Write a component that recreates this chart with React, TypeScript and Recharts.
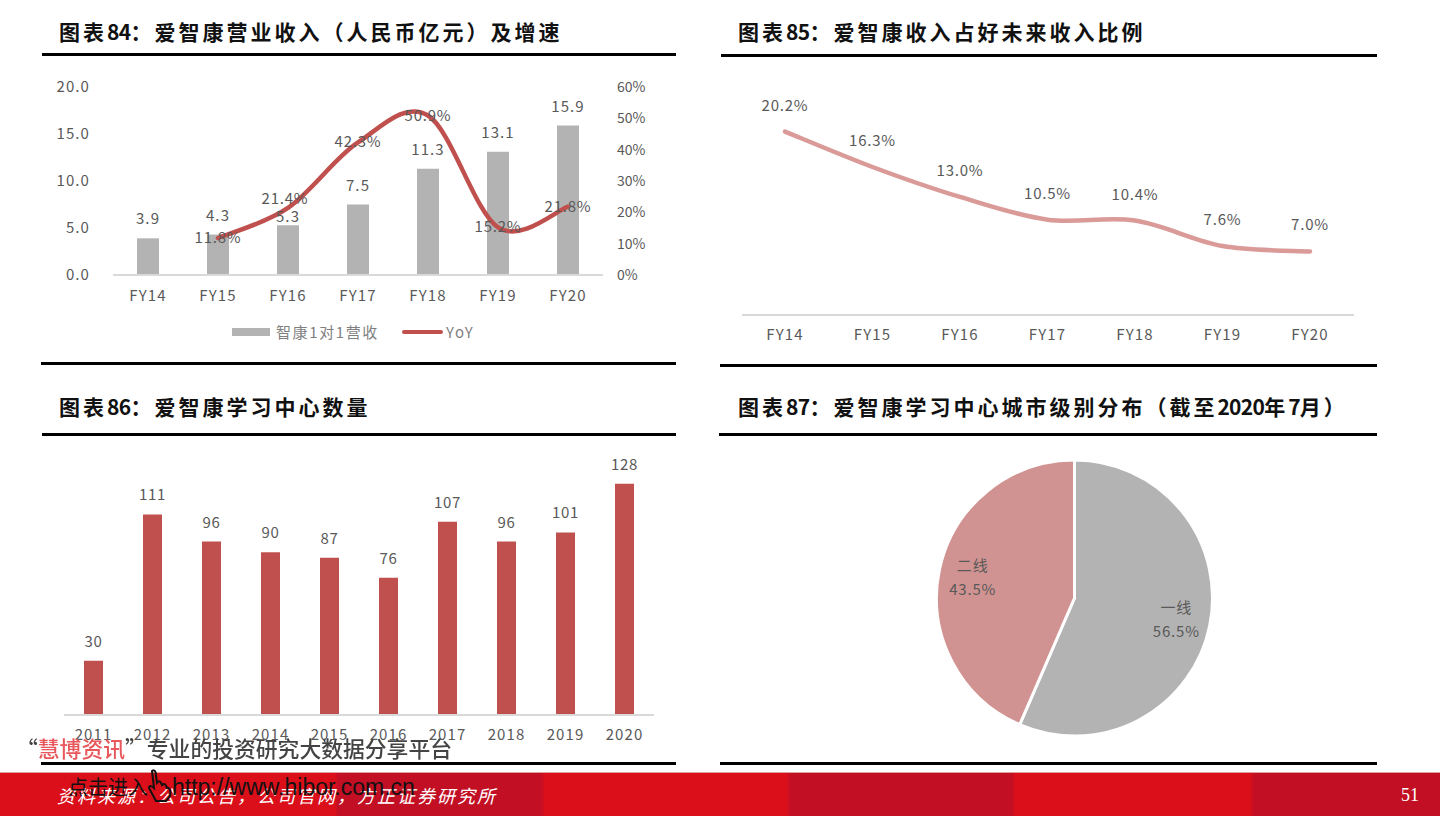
import {
  Bar,
  BarChart,
  Cell,
  ComposedChart,
  LabelList,
  Legend,
  Line,
  LineChart,
  Pie,
  PieChart,
  XAxis,
  YAxis,
} from "recharts";

const CJK = '"Noto Sans CJK SC", "Noto Sans", sans-serif';
const TEXT = "#595959";
const AXIS = "#d9d9d9";
const RED = "#c0504d";
const GREY = "#b3b3b3";
const PINK = "#d99a98";

const fiscalYears = ["FY14", "FY15", "FY16", "FY17", "FY18", "FY19", "FY20"];
const revenue = [3.9, 4.3, 5.3, 7.5, 11.3, 13.1, 15.9];
const yoy = [null, 11.8, 21.4, 42.3, 50.9, 15.2, 21.8];
const shareOfTal = [20.2, 16.3, 13.0, 10.5, 10.4, 7.6, 7.0];
const centerYears = ["2011", "2012", "2013", "2014", "2015", "2016", "2017", "2018", "2019", "2020"];
const centerCounts = [30, 111, 96, 90, 87, 76, 107, 96, 101, 128];
const cityTiers = ["一线", "二线"];
const cityShares = [56.5, 43.5];
const cityColors = [GREY, "#d19391"];

const revenueRows = fiscalYears.map((fy, i) => ({ fy, revenue: revenue[i], yoy: yoy[i] }));
const shareRows = fiscalYears.map((fy, i) => ({ fy, share: shareOfTal[i] }));
const centerRows = centerYears.map((year, i) => ({ year, count: centerCounts[i] }));
const cityRows = cityTiers.map((tier, i) => ({ tier, share: cityShares[i] }));

// Excel style smoothing: Catmull-Rom through every point, overshoots like the original.
function excelCurve(ctx: any) {
  let pts: [number, number][] = [];
  return {
    areaStart() {},
    areaEnd() {},
    lineStart() {
      pts = [];
    },
    point(x: number, y: number) {
      pts.push([+x, +y]);
    },
    lineEnd() {
      if (pts.length === 0) return;
      ctx.moveTo(pts[0][0], pts[0][1]);
      for (let i = 0; i < pts.length - 1; i++) {
        const p0 = pts[Math.max(i - 1, 0)];
        const p1 = pts[i];
        const p2 = pts[i + 1];
        const p3 = pts[Math.min(i + 2, pts.length - 1)];
        ctx.bezierCurveTo(
          p1[0] + (p2[0] - p0[0]) / 6,
          p1[1] + (p2[1] - p0[1]) / 6,
          p2[0] - (p3[0] - p1[0]) / 6,
          p2[1] - (p3[1] - p1[1]) / 6,
          p2[0],
          p2[1],
        );
      }
    },
  };
}

const tickStyle = { fill: TEXT, fontSize: 15, fontFamily: CJK, letterSpacing: 1.1 };

function Title({ left, top, children }: { left: number; top: number; children: string }) {
  // digits sit tighter than the Chinese characters in the original headings
  const parts = children.split(/(\d+)/);
  return (
    <div
      style={{
        position: "absolute",
        left,
        top,
        fontFamily: CJK,
        fontWeight: 700,
        fontSize: 21,
        letterSpacing: 3,
        lineHeight: "30px",
        color: "#111",
        whiteSpace: "nowrap",
      }}
    >
      {parts.map((p, i) =>
        /\d/.test(p) ? (
          <span key={i} style={{ letterSpacing: -0.7 }}>{p}</span>
        ) : (
          <span key={i}>{p}</span>
        ),
      )}
    </div>
  );
}

function Rule({ left, right, top }: { left: number; right: number; top: number }) {
  return <div style={{ position: "absolute", left, top, width: right - left, height: 3, background: "#000" }} />;
}

function YoyLabel(props: any) {
  const { x, y, value, index } = props;
  if (value == null) return null;
  // FY16 label was dragged up and left in the original
  const moved = index === 2;
  return (
    <text
      x={moved ? x - 3 : x}
      y={moved ? y - 4 : y + 5}
      textAnchor="middle"
      fill={TEXT}
      fontSize={15}
      fontFamily={CJK}
      letterSpacing={0.8}
    >
      {value.toFixed(1)}%
    </text>
  );
}

function RevenueLabel(props: any) {
  const { x, y, width, value, index } = props;
  // FY16 sits closer to its bar to clear the line label
  const baseline = index === 2 ? y - 3 : y - 14;
  return (
    <text x={x + width / 2} y={baseline} textAnchor="middle" fill={TEXT} fontSize={15} fontFamily={CJK} letterSpacing={1.1}>
      {value.toFixed(1)}
    </text>
  );
}

function ShareLabel(props: any) {
  const { x, y, value } = props;
  return (
    <text x={x} y={y - 21} textAnchor="middle" fill={TEXT} fontSize={15} fontFamily={CJK} letterSpacing={0.8}>
      {value.toFixed(1)}%
    </text>
  );
}

function RevenueLegend() {
  return (
    <div
      style={{
        height: 40,
        position: "relative",
        fontFamily: CJK,
        fontSize: 15,
        color: "#7f7f7f",
        letterSpacing: 1.6,
      }}
    >
      <span style={{ position: "absolute", left: 192, top: 16, width: 38, height: 8, background: GREY }} />
      <span style={{ position: "absolute", left: 236, top: 9, lineHeight: "22px", whiteSpace: "nowrap" }}>智康1对1营收</span>
      <span style={{ position: "absolute", left: 362, top: 18, width: 41, height: 4, borderRadius: 2, background: RED }} />
      <span style={{ position: "absolute", left: 406, top: 9, lineHeight: "22px" }}>YoY</span>
    </div>
  );
}

function RevenueChart() {
  return (
    <div style={{ position: "absolute", left: 40, top: 70 }}>
      <ComposedChart
        width={640}
        height={290}
        data={revenueRows}
        barCategoryGap="68%"
        margin={{ top: 17, right: 0, bottom: 15, left: 0 }}
      >
        <XAxis
          dataKey="fy"
          height={30}
          interval={0}
          tick={tickStyle}
          tickLine={false}
          tickMargin={9}
          axisLine={{ stroke: AXIS, strokeWidth: 2 }}
        />
        <YAxis
          yAxisId="left"
          width={73}
          domain={[0, 20]}
          ticks={[0, 5, 10, 15, 20]}
          tickFormatter={(v: number) => v.toFixed(1)}
          tick={tickStyle}
          tickLine={false}
          axisLine={false}
          tickMargin={17}
        />
        <YAxis
          yAxisId="right"
          orientation="right"
          width={77}
          domain={[0, 60]}
          ticks={[0, 10, 20, 30, 40, 50, 60]}
          tickFormatter={(v: number) => `${v}%`}
          tick={{ ...tickStyle, fontSize: 14, letterSpacing: 0 }}
          tickLine={false}
          axisLine={false}
          tickMargin={8}
        />
        <Legend verticalAlign="bottom" height={40} content={RevenueLegend} wrapperStyle={{ left: 0, width: 640, bottom: 8 }} />
        <Bar yAxisId="left" dataKey="revenue" fill={GREY} barSize={22} isAnimationActive={false}>
          <LabelList dataKey="revenue" content={RevenueLabel} />
        </Bar>
        <Line
          yAxisId="right"
          dataKey="yoy"
          type={excelCurve as any}
          stroke={RED}
          strokeWidth={4.5}
          strokeLinecap="round"
          dot={false}
          label={YoyLabel}
          isAnimationActive={false}
        />
      </ComposedChart>
    </div>
  );
}

function ShareChart() {
  return (
    <div style={{ position: "absolute", left: 720, top: 70 }}>
      <LineChart
        width={656}
        height={290}
        data={shareRows}
        margin={{ top: 18, right: 22, bottom: 0, left: 22 }}
      >
        <XAxis
          dataKey="fy"
          height={45}
          interval={0}
          padding={{ left: 43, right: 44 }}
          tick={tickStyle}
          tickLine={false}
          tickMargin={8}
          axisLine={{ stroke: AXIS, strokeWidth: 2 }}
        />
        <YAxis hide domain={[0, 25]} />
        <Line
          dataKey="share"
          type={excelCurve as any}
          stroke={PINK}
          strokeWidth={4.5}
          strokeLinecap="round"
          dot={false}
          label={ShareLabel}
          isAnimationActive={false}
        />
      </LineChart>
    </div>
  );
}

function CenterChart() {
  return (
    <div style={{ position: "absolute", left: 40, top: 450 }}>
      <BarChart
        width={640}
        height={305}
        data={centerRows}
        margin={{ top: 12, right: 26, bottom: 0, left: 24 }}
      >
        <XAxis
          dataKey="year"
          height={40}
          interval={0}
          tick={tickStyle}
          tickLine={false}
          tickMargin={8}
          axisLine={{ stroke: AXIS, strokeWidth: 2 }}
        />
        <YAxis hide domain={[0, 140]} />
        <Bar dataKey="count" fill={RED} barSize={19} isAnimationActive={false}>
          <LabelList
            dataKey="count"
            position="top"
            offset={14}
            style={{ fill: TEXT, fontSize: 15, fontFamily: CJK, letterSpacing: 0.6 }}
          />
        </Bar>
      </BarChart>
    </div>
  );
}

function CityLabel(props: any) {
  const { cx, cy, midAngle, index } = props;
  const rad = (-midAngle * Math.PI) / 180;
  const x = cx + 104 * Math.cos(rad);
  const y = cy + 104 * Math.sin(rad);
  return (
    <text x={x} textAnchor="middle" fill={TEXT} fontSize={15} fontFamily={CJK} letterSpacing={0.8}>
      <tspan x={x} y={y - 6}>{cityTiers[index]}</tspan>
      <tspan x={x} y={y + 18}>{cityShares[index].toFixed(1)}%</tspan>
    </text>
  );
}

function CityChart() {
  return (
    <div style={{ position: "absolute", left: 904, top: 448 }}>
      <PieChart width={340} height={300} margin={{ top: 0, right: 0, bottom: 0, left: 0 }}>
        <Pie
          data={cityRows}
          dataKey="share"
          nameKey="tier"
          cx={170.5}
          cy={150}
          outerRadius={138}
          startAngle={90}
          endAngle={-270}
          stroke="#fff"
          strokeWidth={3}
          label={CityLabel}
          labelLine={false}
          isAnimationActive={false}
        >
          {cityRows.map((row, i) => (
            <Cell key={row.tier} fill={cityColors[i]} />
          ))}
        </Pie>
      </PieChart>
    </div>
  );
}

function Footer() {
  return (
    <>
      <div
        style={{
          position: "absolute",
          left: 0,
          top: 772,
          width: 1440,
          height: 44,
          borderTop: "1px solid #e0a0a0",
          boxSizing: "border-box",
          background:
            "linear-gradient(90deg, #da0f1a 0, #da0f1a 335px, #c20f24 338px, #c20f24 541px, #da0f1a 545px, #da0f1a 787px, #c20f24 790px, #c20f24 1012px, #da0f1a 1015px, #da0f1a 1250px, #c20f24 1254px, #c20f24 1440px)",
        }}
      />
      <div
        style={{
          position: "absolute",
          left: 57,
          top: 783,
          fontFamily: CJK,
          fontStyle: "italic",
          fontSize: 18,
          lineHeight: "24px",
          letterSpacing: 2,
          color: "#fff",
          whiteSpace: "nowrap",
        }}
      >
        资料来源：公司公告，公司官网，方正证券研究所
      </div>
      <div
        style={{
          position: "absolute",
          left: 1401,
          top: 784,
          fontFamily: '"Liberation Serif", serif',
          fontSize: 18,
          lineHeight: "22px",
          color: "#fff",
        }}
      >
        51
      </div>
      <div
        style={{
          position: "absolute",
          left: 16,
          top: 733,
          fontFamily: CJK,
          fontSize: 21.8,
          fontWeight: 500,
          lineHeight: "30px",
          color: "#444",
          whiteSpace: "nowrap",
          filter: "blur(0.5px)",
        }}
      >
        “<span style={{ color: "#e8575c" }}>慧博资讯</span>”专业的投资研究大数据分享平台
      </div>
      <div
        style={{
          position: "absolute",
          left: 68,
          top: 773,
          fontFamily: CJK,
          fontSize: 20,
          lineHeight: "28px",
          color: "#111",
          whiteSpace: "nowrap",
        }}
      >
        点击进入
      </div>
      <div
        style={{
          position: "absolute",
          left: 172,
          top: 773,
          fontFamily: '"Liberation Sans", sans-serif',
          fontSize: 23,
          lineHeight: "28px",
          color: "#111",
          whiteSpace: "nowrap",
        }}
      >
        http://www.hibor.com.cn
      </div>
      <svg style={{ position: "absolute", left: 146, top: 768 }} width={28} height={34}>
        <path
          d="M6 3 C9 1 10 4 10 8 L11 15 C14 11 15 15 16 17 C19 14 20 18 21 20 C24 19 25 24 24 28 L20 33 L10 33 L3 20 C3 17 6 18 8 20 Z"
          fill="none"
          stroke="#111"
          strokeWidth={2}
        />
      </svg>
    </>
  );
}

export default function App() {
  return (
    <div style={{ position: "absolute", left: 0, top: 0, width: 1440, height: 816, background: "#fff", overflow: "hidden" }}>
      <Title left={59} top={16}>图表84：爱智康营业收入（人民币亿元）及增速</Title>
      <Rule left={42} right={676} top={53} />
      <RevenueChart />
      <Rule left={41} right={676} top={362} />

      <Title left={738} top={16}>图表85：爱智康收入占好未来收入比例</Title>
      <Rule left={721} right={1377} top={54} />
      <ShareChart />
      <Rule left={720} right={1377} top={364} />

      <Title left={59} top={391}>图表86：爱智康学习中心数量</Title>
      <Rule left={42} right={676} top={433} />
      <CenterChart />
      <Rule left={41} right={676} top={762} />

      <Title left={738} top={391}>图表87：爱智康学习中心城市级别分布（截至2020年7月）</Title>
      <Rule left={719} right={1377} top={433} />
      <CityChart />
      <Rule left={720} right={1377} top={762} />

      <Footer />
    </div>
  );
}
